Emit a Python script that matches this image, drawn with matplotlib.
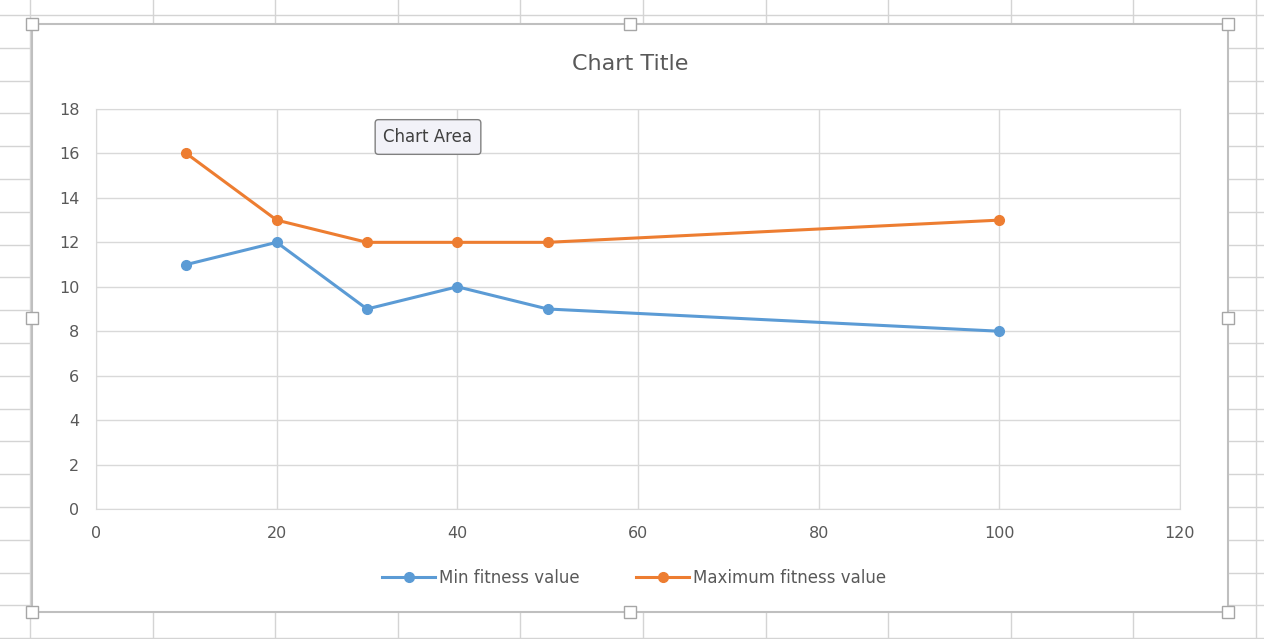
import numpy as np
import matplotlib.pyplot as plt
from matplotlib.patches import Rectangle

# data
pop_size = [10, 20, 30, 40, 50, 100]
min_fitness = [11, 12, 9, 10, 9, 8]
max_fitness = [16, 13, 12, 12, 12, 13]

BLUE = '#5B9BD5'
ORANGE = '#ED7D31'
TEXT = '#595959'
GRID = '#D9D9D9'

W, H = 1264, 639
fig = plt.figure(figsize=(W / 100, H / 100), dpi=100)

# spreadsheet behind the chart, drawn in pixel coordinates
bg = fig.add_axes([0, 0, 1, 1])
bg.set_xlim(0, W)
bg.set_ylim(H, 0)
bg.axis('off')
for cx in np.arange(30, W, 122.6):
    bg.axvline(cx, color='#D4D4D4', lw=1)
for ry in np.arange(15, H, 32.8):
    bg.axhline(ry, color='#D4D4D4', lw=1)

# chart area box with its handles
bg.add_patch(Rectangle((32, 24), 1196, 588, facecolor='white',
                       edgecolor='#BFBFBF', lw=1.5, zorder=3))
for hx in (32, 630, 1228):
    for hy in (24, 318, 612):
        if hx == 630 and hy == 318:
            continue
        bg.add_patch(Rectangle((hx - 6, hy - 6), 12, 12, facecolor='white',
                               edgecolor='#A6A6A6', lw=1, zorder=4))

ax = fig.add_axes([96 / W, 1 - 509 / H, (1180 - 96) / W, (509 - 109) / H])
ax.patch.set_alpha(0)
ax.plot(pop_size, min_fitness, color=BLUE, lw=2.2, marker='o', ms=7,
        label='Min fitness value')
ax.plot(pop_size, max_fitness, color=ORANGE, lw=2.2, marker='o', ms=7,
        label='Maximum fitness value')

ax.set_xlim(0, 120)
ax.set_ylim(0, 18)
ax.set_xticks(np.arange(0, 121, 20))
ax.set_yticks(np.arange(0, 19, 2))
ax.grid(True, color=GRID, lw=1)
ax.set_axisbelow(True)
for s in ax.spines.values():
    s.set_color(GRID)
ax.tick_params(length=0, labelsize=11.5, colors=TEXT, pad=12)

fig.text(630 / W, 1 - 64 / H, 'Chart Title', ha='center', va='center',
         fontsize=16, color=TEXT)

ax.legend(loc='center', bbox_to_anchor=(634 / W, 1 - 578 / H), bbox_transform=fig.transFigure,
          ncol=2, frameon=False, fontsize=12, labelcolor=TEXT,
          handlelength=3.2, columnspacing=3.4, handletextpad=0.2)

# the "Chart Area" tooltip
fig.text(428 / W, 1 - 137 / H, 'Chart Area', ha='center', va='center', fontsize=12,
         color='#404040', zorder=6,
         bbox=dict(boxstyle='round,pad=0.5,rounding_size=0.2', fc='#F2F2F8',
                   ec='#808080', lw=1))

fig.savefig('out.png', dpi=100)
